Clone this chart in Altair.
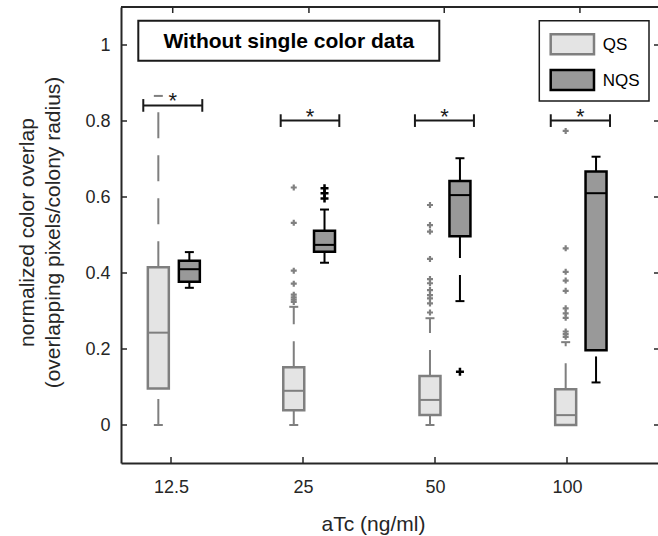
import altair as alt
import pandas as pd

# ---------------- data ----------------
groups = ["12.5", "25", "50", "100"]
tick_vals = [1, 2, 3, 4]
series = ["QS", "NQS"]

qs_pos = [0.904, 1.930, 2.962, 3.990]
nqs_pos = [1.139, 2.163, 3.189, 4.220]
top_ticks = [1.013, 2.045, 3.070, 4.098]

qs_lower = [0.0, 0.0, 0.0, 0.0]
qs_q1 = [0.096, 0.039, 0.026, 0.0]
qs_median = [0.243, 0.090, 0.066, 0.026]
qs_q3 = [0.415, 0.152, 0.129, 0.094]
qs_upper = [0.866, 0.311, 0.281, 0.218]

nqs_lower = [0.361, 0.427, 0.326, 0.112]
nqs_q1 = [0.377, 0.456, 0.497, 0.197]
nqs_median = [0.410, 0.474, 0.605, 0.610]
nqs_q3 = [0.432, 0.511, 0.642, 0.667]
nqs_upper = [0.455, 0.567, 0.702, 0.706]

qs_outliers = [
    [],
    [0.625, 0.532, 0.406, 0.372, 0.343, 0.336, 0.330, 0.324],
    [0.579, 0.526, 0.509, 0.437, 0.384, 0.373, 0.355, 0.342, 0.333, 0.320, 0.296],
    [0.774, 0.465, 0.403, 0.380, 0.353, 0.307, 0.294, 0.282, 0.246, 0.239, 0.232],
]
nqs_outliers = [[], [0.623, 0.610, 0.596], [0.140], []]

sig_x1 = [0.790, 1.831, 2.848, 3.877]
sig_x2 = [1.237, 2.275, 3.295, 4.326]
sig_y = [0.841, 0.801, 0.801, 0.801]

y_ticks = [0, 0.2, 0.4, 0.6, 0.8, 1.0]
title_text = "Without single color data"
x_title = "aTc (ng/ml)"
y_title = ["normalized color overlap", "(overlapping pixels/colony radius)"]

# ---------------- styling ----------------
FONT = "Liberation Sans"
AX = "#262626"
fill_colors = ["#e4e4e4", "#999999"]
edge_colors = ["#7f7f7f", "#000000"]
W, H = 537, 456
BOX_HALF = 0.0795
CAP_HALF = 0.034
END_HALF = 0.0167

xs = alt.Scale(domain=[0.6212, 4.6894], nice=False, zero=False)
ys = alt.Scale(domain=[-0.1, 1.1], nice=False, zero=False)
fill_scale = alt.Scale(domain=series, range=fill_colors)
edge_scale = alt.Scale(domain=series, range=edge_colors)

x_axis = alt.Axis(values=tick_vals,
                  labelExpr="['" + "','".join(groups) + "'][datum.value-1]",
                  tickSize=0, labelPadding=29, labelBaseline="alphabetic",
                  labelFontSize=18, labelFont=FONT, labelColor=AX,
                  domain=True, domainColor=AX, domainWidth=2, grid=False,
                  titleFont=FONT, titleFontSize=21, titleFontWeight="normal",
                  titleColor=AX, titleBaseline="alphabetic",
                  titleX=252, titleY=67, titleAnchor="middle", titleAlign="center")
y_axis = alt.Axis(values=y_ticks, format="~g", tickSize=0, labelPadding=11,
                  labelFontSize=18, labelFont=FONT, labelColor=AX,
                  domain=True, domainColor=AX, domainWidth=2, grid=False,
                  titleFont=FONT, titleFontSize=21, titleFontWeight="normal",
                  titleColor=AX, titleBaseline="alphabetic", titleLineHeight=26,
                  titleX=-88, titleY=225, titleAngle=270, titleAlign="center")


def X(field):
    return alt.X(field, scale=xs, axis=x_axis, title=x_title)


def Y(field):
    return alt.Y(field, scale=ys, axis=y_axis, title=y_title)


rows = []
for i in range(len(groups)):
    for s, pos, lo, q1, md, q3, up in [
        ("QS", qs_pos[i], qs_lower[i], qs_q1[i], qs_median[i], qs_q3[i], qs_upper[i]),
        ("NQS", nqs_pos[i], nqs_lower[i], nqs_q1[i], nqs_median[i], nqs_q3[i], nqs_upper[i]),
    ]:
        rows.append(dict(group=groups[i], series=s, pos=pos,
                         bx1=pos - BOX_HALF, bx2=pos + BOX_HALF,
                         cx1=pos - CAP_HALF, cx2=pos + CAP_HALF,
                         lower=lo, q1=q1, median=md, q3=q3, upper=up))
box_df = pd.DataFrame(rows)

out_rows = []
for i in range(len(groups)):
    for v in qs_outliers[i]:
        out_rows.append(dict(series="QS", pos=qs_pos[i], value=v))
    for v in nqs_outliers[i]:
        out_rows.append(dict(series="NQS", pos=nqs_pos[i], value=v))
out_df = pd.DataFrame(out_rows)

sig_df = pd.DataFrame(dict(x1=sig_x1, x2=sig_x2, y=sig_y))
sig_df["xm"] = (sig_df.x1 + sig_df.x2) / 2
sig_df["ylo"] = sig_df.y - END_HALF
sig_df["yhi"] = sig_df.y + END_HALF

base = alt.Chart(box_df)
stroke_enc = alt.Stroke("series:N", scale=edge_scale, legend=None)

whisk_up = base.mark_rule(strokeWidth=2, strokeDash=[26, 17]).encode(
    x=X("pos:Q"), y=Y("q3:Q"), y2="upper:Q", stroke=stroke_enc)
whisk_lo = base.mark_rule(strokeWidth=2, strokeDash=[26, 17]).encode(
    x=X("pos:Q"), y=Y("lower:Q"), y2="q1:Q", stroke=stroke_enc)
cap_up = base.mark_rule(strokeWidth=2).encode(
    x=X("cx1:Q"), x2="cx2:Q", y=Y("upper:Q"), stroke=stroke_enc)
cap_lo = base.mark_rule(strokeWidth=2).encode(
    x=X("cx1:Q"), x2="cx2:Q", y=Y("lower:Q"), stroke=stroke_enc)
boxes = base.mark_rect(strokeWidth=2.5).encode(
    x=X("bx1:Q"), x2="bx2:Q", y=Y("q1:Q"), y2="q3:Q",
    fill=alt.Fill("series:N", scale=fill_scale, legend=None),
    stroke=stroke_enc)
medians = base.mark_rule(strokeWidth=2).encode(
    x=X("bx1:Q"), x2="bx2:Q", y=Y("median:Q"), stroke=stroke_enc)

plus = "M-1,0L1,0M0,-1L0,1"
out_qs = alt.Chart(out_df[out_df.series == "QS"]).mark_point(
    shape=plus, filled=False, size=36, strokeWidth=2.2, color="#808080", opacity=1).encode(
    x=X("pos:Q"), y=Y("value:Q"))
out_nqs = alt.Chart(out_df[out_df.series == "NQS"]).mark_point(
    shape=plus, filled=False, size=64, strokeWidth=2.5, color="#000000", opacity=1).encode(
    x=X("pos:Q"), y=Y("value:Q"))

sig = alt.Chart(sig_df)
sig_h = sig.mark_rule(strokeWidth=2, color="#1a1a1a").encode(
    x=X("x1:Q"), x2="x2:Q", y=Y("y:Q"))
sig_l = sig.mark_rule(strokeWidth=2, color="#1a1a1a").encode(
    x=X("x1:Q"), y=Y("ylo:Q"), y2="yhi:Q")
sig_r = sig.mark_rule(strokeWidth=2, color="#1a1a1a").encode(
    x=X("x2:Q"), y=Y("ylo:Q"), y2="yhi:Q")
sig_t = sig.mark_text(text="*", font=FONT, fontSize=22, color="#1a1a1a",
                      baseline="alphabetic", dy=3).encode(
    x=X("xm:Q"), y=Y("y:Q"))

# inward ticks and the top frame line
ldf = pd.DataFrame(dict(v=y_ticks))
left_t = alt.Chart(ldf).mark_rule(color=AX, strokeWidth=1.5).encode(
    y=Y("v:Q"), x=alt.value(0), x2=alt.value(6))
right_t = alt.Chart(ldf).mark_rule(color=AX, strokeWidth=1.5).encode(
    y=Y("v:Q"), x=alt.value(W - 4), x2=alt.value(W))
bot_t = alt.Chart(pd.DataFrame(dict(v=tick_vals))).mark_rule(color=AX, strokeWidth=1.5).encode(
    x=X("v:Q"), y=alt.value(H), y2=alt.value(H - 6))
top_t = alt.Chart(pd.DataFrame(dict(v=top_ticks))).mark_rule(color=AX, strokeWidth=1.5).encode(
    x=X("v:Q"), y=alt.value(0), y2=alt.value(6))
one = pd.DataFrame(dict(a=[0]))
top_line = alt.Chart(one).mark_rule(color=AX, strokeWidth=2).encode(
    x=alt.value(0), x2=alt.value(W), y=alt.value(0))

# title box
tbox = alt.Chart(one).mark_rect(fill="white", stroke="#1a1a1a", strokeWidth=2).encode(
    x=alt.value(17.3), x2=alt.value(318.3), y=alt.value(13.7), y2=alt.value(53.7))
ttext = alt.Chart(one).mark_text(text=title_text, font=FONT, fontSize=21, fontWeight="bold",
                                 color="#000000", align="center", baseline="alphabetic").encode(
    x=alt.value(167.8), y=alt.value(41.3))

# legend
leg_box = alt.Chart(one).mark_rect(fill="white", stroke="#1a1a1a", strokeWidth=1.5).encode(
    x=alt.value(418.3), x2=alt.value(528), y=alt.value(13.7), y2=alt.value(94))
leg_df = pd.DataFrame(dict(series=series, top=[27.3, 63.0], bot=[47.3, 83.0], mid=[38.0, 73.5]))
leg_sw = alt.Chart(leg_df).mark_rect(strokeWidth=2.5).encode(
    x=alt.value(429.7), x2=alt.value(473),
    y=alt.Y("top:Q", scale=None, axis=None), y2="bot:Q",
    fill=alt.Fill("series:N", scale=fill_scale, legend=None),
    stroke=alt.Stroke("series:N", scale=edge_scale, legend=None))
leg_tx = alt.Chart(leg_df).mark_text(font=FONT, fontSize=17, color="#000000",
                                     align="left", baseline="middle").encode(
    x=alt.value(481.7), y=alt.Y("mid:Q", scale=None, axis=None), text="series:N")

chart = alt.layer(
    whisk_up, whisk_lo, cap_up, cap_lo, boxes, medians, out_qs, out_nqs,
    sig_h, sig_l, sig_r, sig_t,
    left_t, right_t, bot_t, top_t, top_line,
    tbox, ttext, leg_box, leg_sw, leg_tx,
).properties(
    width=W, height=H,
    padding={"left": 121, "top": 7, "right": 0, "bottom": 73},
    autosize=alt.AutoSizeParams(type="none"),
    background="white",
).configure_view(stroke=None)

chart.save("out.html", embed_options={"renderer": "svg", "actions": False})
